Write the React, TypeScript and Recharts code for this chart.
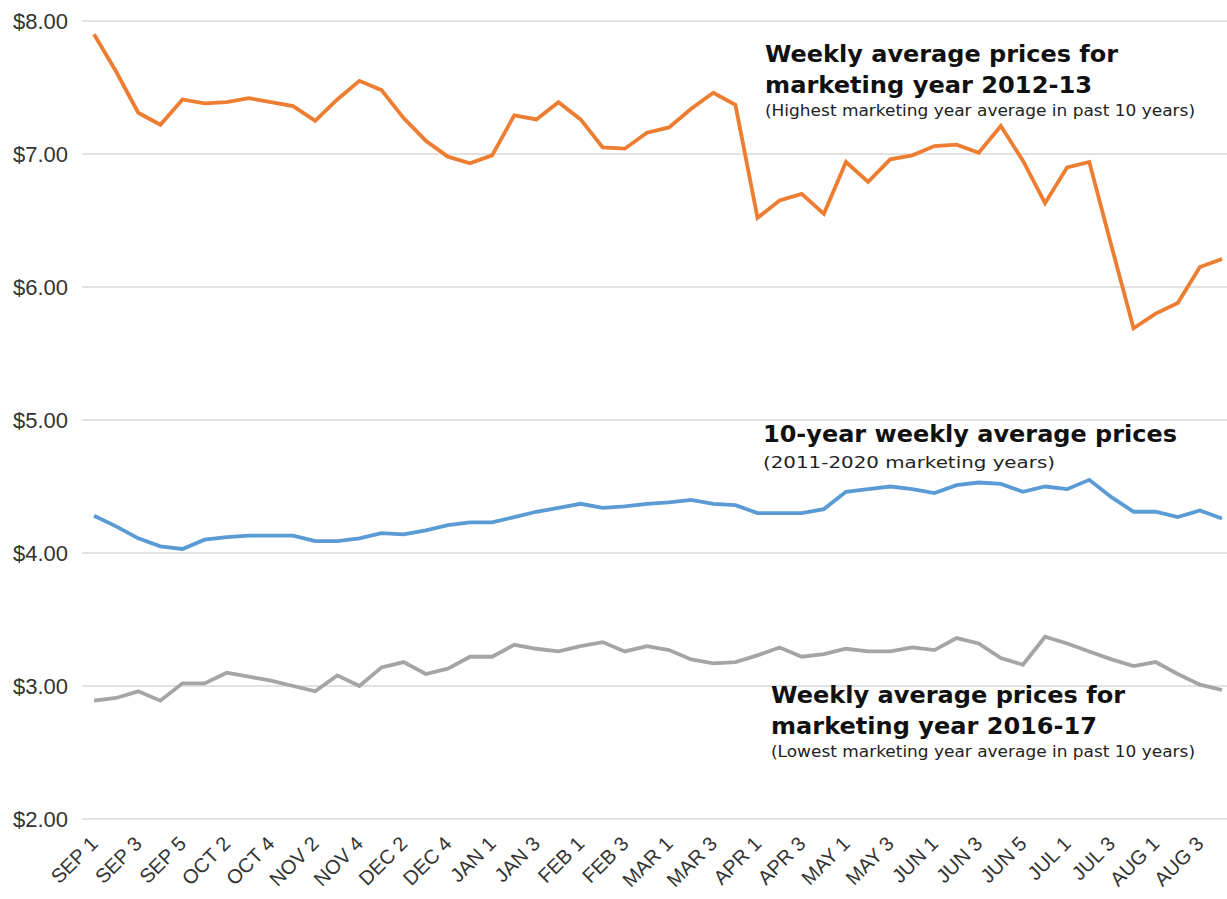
import { LineChart, Line, XAxis, YAxis, CartesianGrid } from 'recharts'

// week labels (only every other one is shown on the axis)
const weeks = [
    'SEP 1', 'SEP 2', 'SEP 3', 'SEP 4', 'SEP 5',
    'OCT 1', 'OCT 2', 'OCT 3', 'OCT 4',
    'NOV 1', 'NOV 2', 'NOV 3', 'NOV 4',
    'DEC 1', 'DEC 2', 'DEC 3', 'DEC 4', 'DEC 5',
    'JAN 1', 'JAN 2', 'JAN 3', 'JAN 4',
    'FEB 1', 'FEB 2', 'FEB 3', 'FEB 4',
    'MAR 1', 'MAR 2', 'MAR 3', 'MAR 4',
    'APR 1', 'APR 2', 'APR 3', 'APR 4',
    'MAY 1', 'MAY 2', 'MAY 3', 'MAY 4',
    'JUN 1', 'JUN 2', 'JUN 3', 'JUN 4', 'JUN 5', 'JUN 6',
    'JUL 1', 'JUL 2', 'JUL 3', 'JUL 4',
    'AUG 1', 'AUG 2', 'AUG 3', 'AUG 4'
]

const my2012 = [
    7.90, 7.62, 7.31, 7.22, 7.41, 7.38, 7.39, 7.42, 7.39, 7.36,
    7.25, 7.41, 7.55, 7.48, 7.27, 7.10, 6.98, 6.93, 6.99, 7.29,
    7.26, 7.39, 7.26, 7.05, 7.04, 7.16, 7.20, 7.34, 7.46, 7.37,
    6.52, 6.65, 6.70, 6.55, 6.94, 6.79, 6.96, 6.99, 7.06, 7.07,
    7.01, 7.21, 6.95, 6.63, 6.90, 6.94, 6.31, 5.69, 5.80, 5.88,
    6.15, 6.21
]

const tenYear = [
    4.28, 4.20, 4.11, 4.05, 4.03, 4.10, 4.12, 4.13, 4.13, 4.13,
    4.09, 4.09, 4.11, 4.15, 4.14, 4.17, 4.21, 4.23, 4.23, 4.27,
    4.31, 4.34, 4.37, 4.34, 4.35, 4.37, 4.38, 4.40, 4.37, 4.36,
    4.30, 4.30, 4.30, 4.33, 4.46, 4.48, 4.50, 4.48, 4.45, 4.51,
    4.53, 4.52, 4.46, 4.50, 4.48, 4.55, 4.42, 4.31, 4.31, 4.27,
    4.32, 4.26
]

const my2016 = [
    2.89, 2.91, 2.96, 2.89, 3.02, 3.02, 3.10, 3.07, 3.04, 3.00,
    2.96, 3.08, 3.00, 3.14, 3.18, 3.09, 3.13, 3.22, 3.22, 3.31,
    3.28, 3.26, 3.30, 3.33, 3.26, 3.30, 3.27, 3.20, 3.17, 3.18,
    3.23, 3.29, 3.22, 3.24, 3.28, 3.26, 3.26, 3.29, 3.27, 3.36,
    3.32, 3.21, 3.16, 3.37, 3.32, 3.26, 3.20, 3.15, 3.18, 3.09,
    3.01, 2.97
]

const priceTicks = [2, 3, 4, 5, 6, 7, 8]

const data = weeks.map((week, i) => ({
    week,
    my2012: my2012[i],
    tenYear: tenYear[i],
    my2016: my2016[i]
}))

const WIDTH = 1227
const HEIGHT = 899

function WeekTick(props: any) {
    const { x, y, payload } = props
    return (
        <text
            transform={`translate(${x + 5},${y + 26}) rotate(-45)`}
            textAnchor="end"
            fontSize={20}
            fontFamily="'Liberation Sans', Arial, sans-serif"
            fill="#333"
        >
            {payload.value}
        </text>
    )
}

export default function App() {
    const bold = { fontFamily: "'DejaVu Sans', sans-serif", fontWeight: 700, fontSize: 23, fill: '#111' }
    const small = { fontFamily: "'DejaVu Sans', sans-serif", fontSize: 15.5, fill: '#222' }

    return (
        <div style={{ position: 'relative', width: WIDTH, height: HEIGHT }}>
            <style>{'body{margin:0}'}</style>
            <LineChart
                width={WIDTH}
                height={HEIGHT}
                data={data}
                margin={{ top: 21, right: 0, bottom: 0, left: 0 }}
            >
                <CartesianGrid vertical={false} stroke="#D9D9D9" strokeWidth={1.5} />
                <XAxis
                    dataKey="week"
                    axisLine={false}
                    tickLine={false}
                    tickSize={0}
                    tickMargin={0}
                    interval={1}
                    height={80}
                    padding={{ left: 12, right: 5 }}
                    tick={<WeekTick />}
                />
                <YAxis
                    domain={[2, 8]}
                    ticks={priceTicks}
                    axisLine={false}
                    tickLine={false}
                    tickSize={0}
                    tickMargin={14}
                    width={82}
                    tickFormatter={(v: number) => `$${v.toFixed(2)}`}
                    tick={{ fill: '#333', fontSize: 22, fontFamily: "'Liberation Sans', Arial, sans-serif" }}
                />
                <Line dataKey="my2012" stroke="#ED7D31" strokeWidth={3.8} dot={false} isAnimationActive={false} />
                <Line dataKey="tenYear" stroke="#5B9BD5" strokeWidth={3.8} dot={false} isAnimationActive={false} />
                <Line dataKey="my2016" stroke="#A5A5A5" strokeWidth={3.8} dot={false} isAnimationActive={false} />
            </LineChart>

            <svg
                width={WIDTH}
                height={HEIGHT}
                style={{ position: 'absolute', left: 0, top: 0, pointerEvents: 'none' }}
            >
                <text x={765} y={62} textLength={353} lengthAdjust="spacingAndGlyphs" {...bold}>Weekly average prices for</text>
                <text x={765} y={93} textLength={327} lengthAdjust="spacingAndGlyphs" {...bold}>marketing year 2012-13</text>
                <text x={765} y={116} textLength={430} lengthAdjust="spacingAndGlyphs" {...small}>(Highest marketing year average in past 10 years)</text>

                <text x={763} y={442} textLength={414} lengthAdjust="spacingAndGlyphs" {...bold}>10-year weekly average prices</text>
                <text x={763} y={468} textLength={292} lengthAdjust="spacingAndGlyphs" {...small}>(2011-2020 marketing years)</text>

                <text x={771} y={703} textLength={354} lengthAdjust="spacingAndGlyphs" {...bold}>Weekly average prices for</text>
                <text x={771} y={734} textLength={326} lengthAdjust="spacingAndGlyphs" {...bold}>marketing year 2016-17</text>
                <text x={771} y={757} textLength={424} lengthAdjust="spacingAndGlyphs" {...small}>(Lowest marketing year average in past 10 years)</text>
            </svg>
        </div>
    )
}
